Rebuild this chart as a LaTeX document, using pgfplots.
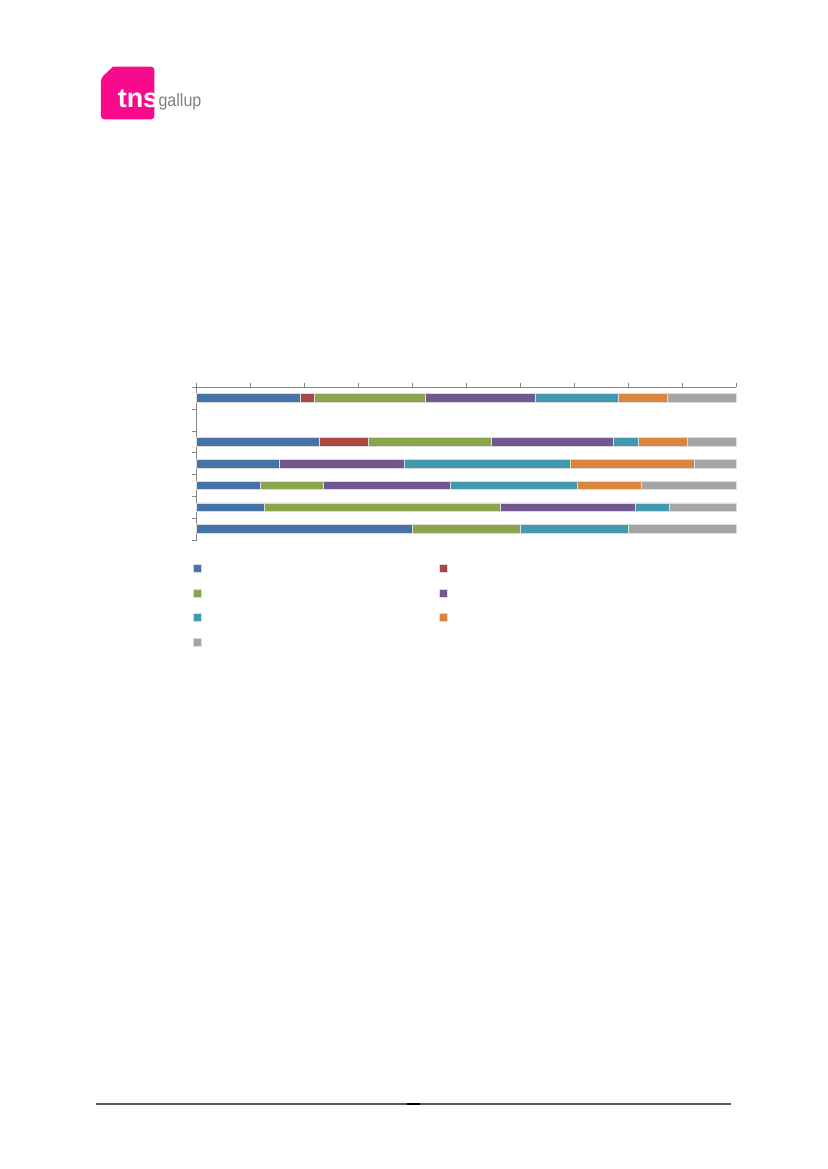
\documentclass[border=0pt]{standalone}
\usepackage{fontspec}
\setmainfont{Liberation Sans}
\usepackage{pgfplots}
\pgfplotsset{compat=1.18}
\usepackage{pgfplotstable}

\definecolor{cBlue}{HTML}{4572A7}
\definecolor{cRed}{HTML}{AA4643}
\definecolor{cGreen}{HTML}{89A54E}
\definecolor{cPurple}{HTML}{71588F}
\definecolor{cTeal}{HTML}{4198AF}
\definecolor{cOrange}{HTML}{DB843D}
\definecolor{cGrey}{HTML}{A5A5A5}
\definecolor{axgray}{HTML}{868686}
\definecolor{barline}{HTML}{DCDCDC}
\definecolor{tnspink}{HTML}{F80A8C}
\definecolor{tnsgray}{HTML}{7F7F7F}
\definecolor{footgray}{HTML}{595959}

% rows from the bottom up (y=6 is the empty row)
\pgfplotstableread{
y blue  red  green purple teal  orange grey
7 19.23 2.56 20.51 20.51  15.38 8.97   12.82
5 22.73 9.09 22.73 22.73  4.55  9.09   9.09
4 15.38 0    0     23.08  30.77 23.08  7.69
3 11.76 0    11.76 23.53  23.53 11.76  17.65
2 12.50 0    43.75 25.00  6.25  0      12.50
1 40.00 0    20.00 0      20.00 0      20.00
}\shares

\begin{document}
\begin{tikzpicture}
\path[use as bounding box] (0,0) rectangle (210.06mm,-296.93mm);

% logo and footer, in pixel units of the page
\begin{scope}[x=0.254mm, y=-0.254mm]
  \fill[tnspink] (101,78) -- (113,66.7) [rounded corners=0.8mm] -- (154.3,66.7)
    -- (154.3,119.3) -- (101,119.3) -- cycle;
  \node[anchor=base west, inner sep=0pt, text=white,
        font=\bfseries\fontsize{19.5}{20}\selectfont] at (117.5,107.3) {tns};
  \node[anchor=base west, inner sep=0pt, text=tnsgray, xscale=0.9,
        font=\fontsize{12.9}{13}\selectfont] at (158.3,106.7) {gallup};
  \draw[footgray, line width=0.33mm] (96,1104) -- (731,1104);
  \draw[black, line width=0.33mm] (406.7,1104) -- (420,1104);
\end{scope}

\begin{axis}[
    at={(49.96mm,-137.16mm)}, anchor=south west,
    scale only axis,
    width=137.06mm, height=38.79mm,
    xbar stacked, bar width=0.4,
    xmin=0, xmax=100, ymin=0.5, ymax=7.5,
    axis x line=top, axis y line=left,
    axis line style={draw=axgray, line width=0.6pt, -},
    every outer x axis line/.append style={-},
    every outer y axis line/.append style={-},
    xtick={0,10,...,100}, ytick={0.5,1.5,...,7.5},
    xticklabels={}, yticklabels={},
    xtick pos=right, ytick pos=left,
    tick align=outside, major tick length=1.2mm,
    tick style={draw=axgray, line width=0.6pt},
    clip=false,
    legend columns=2,
    legend style={at={(-0.0074,-0.159)}, anchor=north west,
        draw=none, fill=none, inner sep=0pt, outer sep=0pt,
        row sep=4.1mm,
        nodes={inner sep=0pt, outer sep=0pt},
        /tikz/every even column/.append style={column sep=60mm}},
    legend image code/.code={\draw[#1, draw=barline, line width=0.4pt] (0mm,-1mm) rectangle (2mm,1mm);},
]
\addplot[fill=cBlue, draw=barline, line width=0.5pt] table[x=blue, y=y] {\shares};
\addlegendentry{\mbox{}}
\addplot[fill=cRed, draw=barline, line width=0.5pt] table[x=red, y=y] {\shares};
\addlegendentry{\mbox{}}
\addplot[fill=cGreen, draw=barline, line width=0.5pt] table[x=green, y=y] {\shares};
\addlegendentry{\mbox{}}
\addplot[fill=cPurple, draw=barline, line width=0.5pt] table[x=purple, y=y] {\shares};
\addlegendentry{\mbox{}}
\addplot[fill=cTeal, draw=barline, line width=0.5pt] table[x=teal, y=y] {\shares};
\addlegendentry{\mbox{}}
\addplot[fill=cOrange, draw=barline, line width=0.5pt] table[x=orange, y=y] {\shares};
\addlegendentry{\mbox{}}
\addplot[fill=cGrey, draw=barline, line width=0.5pt] table[x=grey, y=y] {\shares};
\addlegendentry{\mbox{}}
\end{axis}
\end{tikzpicture}
\end{document}
